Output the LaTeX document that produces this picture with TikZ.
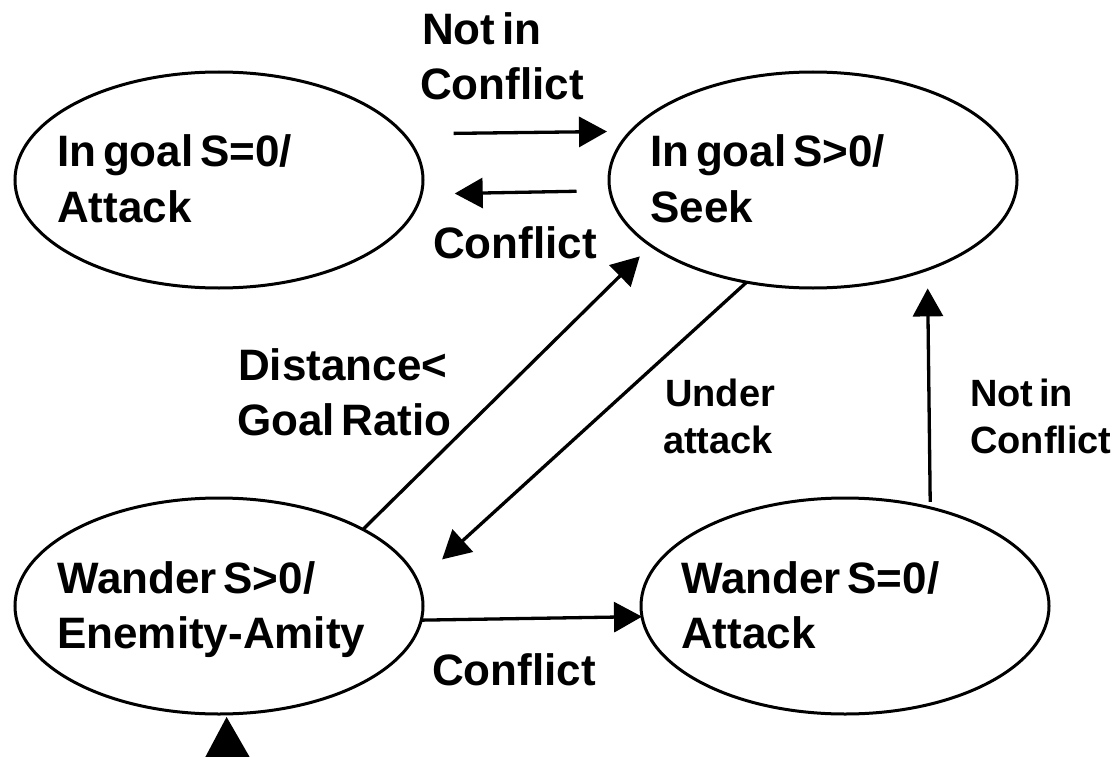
\documentclass[tikz,border=0pt]{standalone}
\usepackage{fontspec}
\setmainfont{Liberation Sans}[WordSpace=0.55]
\usetikzlibrary{arrows.meta,shapes.geometric}
\begin{document}
\begin{tikzpicture}[x=1pt,y=-1pt,
  state/.style={draw, ellipse, line width=3pt, minimum width=408pt, minimum height=216pt, inner sep=0pt, outer sep=0pt},
  txt/.style={anchor=base west, inner sep=0pt, font=\fontsize{44}{52}\selectfont\bfseries},
  smalltxt/.style={anchor=base west, inner sep=0pt, font=\fontsize{38}{46}\selectfont\bfseries},
  arr/.style={line width=3.3pt, -{Triangle[length=28pt,width=30pt]}},
  bigarr/.style={line width=3.3pt, -{Triangle[length=46pt,width=50pt]}}]
\fill[white] (0,0) rectangle (1113,757);
\useasboundingbox (0,0) rectangle (1113,757);
\clip (0,0) rectangle (1113,757);

% states
\node[state] (A) at (219,180) {};
\node[state] (B) at (813,180) {};
\node[state] (C) at (219,606) {};
\node[state] (D) at (845,606) {};

% state texts
\node[txt] (A1) at (57,166) {In goal S=0/};
\node[txt] (A2) at (57,222) {Attack};
\node[txt] (B1) at (650,166) {In goal S>0/};
\node[txt] (B2) at (650,222) {Seek};
\node[txt] (C1) at (57,593) {Wander S>0/};
\node[txt] (C2) at (57,648) {Enemity-Amity};
\node[txt] (D1) at (681,593) {Wander S=0/};
\node[txt] (D2) at (681,648) {Attack};

% edge labels
\node[txt] (L1a) at (422,45) {Not in};
\node[txt] (L1b) at (420,100) {Conflict};
\node[txt] (L2) at (433,258) {Conflict};
\node[txt] (L3a) at (238,380) {Distance<};
\node[txt] (L3b) at (237,435) {Goal Ratio};
\node[smalltxt] (L4a) at (665,406) {Under};
\node[smalltxt] (L4b) at (663,453) {attack};
\node[smalltxt] (L5a) at (970,406) {Not in};
\node[smalltxt] (L5b) at (970,453) {Conflict};
\node[txt] (L6) at (432,685) {Conflict};

% connectors
\draw[arr, shorten <=50pt, shorten >=24pt] (A.14.3) -- (B.165.7);
\draw[arr, shorten <=33.5pt, shorten >=33.5pt] (B.183.67) -- (A.356.33);
\draw[arr, shorten >=15.5pt] (C.28.75) -- (B.202);
\draw[arr, shorten >=33pt] (B.237.95) -- (C.7.18);
\draw[arr, shorten <=6pt, shorten >=19pt] (D.49.5) -- (B.322.56);
\draw[arr] (C.356.04) -- (D.183.96);
\coordinate (init) at (228,800);
\draw[bigarr, shorten >=3pt] (init) -- (C.274.77);
\end{tikzpicture}
\end{document}
